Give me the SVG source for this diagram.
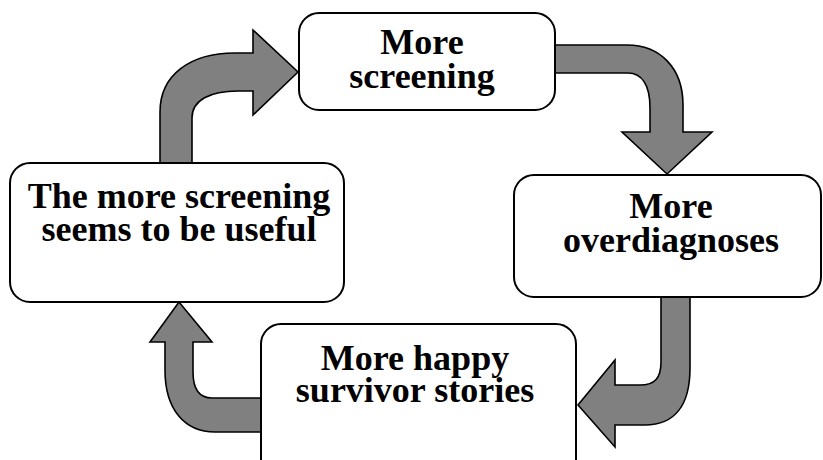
<svg xmlns="http://www.w3.org/2000/svg" width="823" height="460" viewBox="0 0 823 460">
<style>
.box{fill:#fff;stroke:#000;stroke-width:2}
.arr{fill:#808080;stroke:#000;stroke-width:1.6;stroke-linejoin:miter}
.t{font-family:"Liberation Serif","Times New Roman",serif;font-weight:bold;font-size:36px;text-anchor:middle;fill:#000}
</style>
<rect width="823" height="460" fill="#fff"/>
<g id="connectors">
<path class="arr" d="M160,164 L160,112 C160,75 190,53 235,53 L253,53 L253,30 L298,72 L253,115 L253,91 L238,91 C210,91 192,100 192,118 L192,164 Z"/>
<path class="arr" d="M555,45 L627,45 C660,45 683,68 683,105 L683,132 L712,132 L667,174 L622,132 L650,132 L650,108 C650,85 642,73 628,73 L555,73 Z"/>
<path class="arr" d="M661,296 L690,296 L690,368 C690,405 675,425 645,425 L615,425 L615,447 L578,405 L615,360 L615,385 L640,385 C655,385 661,378 661,362 Z"/>
<path class="arr" d="M261,432 L215,432 C185,432 165,410 165,370 L165,342 L150,342 L179,302 L212,342 L193,342 L193,372 C193,390 200,398 212,398 L261,398 Z"/>
</g>
<g id="node-more-screening">
<rect class="box" x="299" y="13" width="256" height="97" rx="20"/>
<text class="t" x="422" y="54">More</text>
<text class="t" x="422" y="88">screening</text>
</g>
<g id="node-more-overdiagnoses">
<rect class="box" x="514" y="175" width="307" height="122" rx="20"/>
<text class="t" x="671" y="218">More</text>
<text class="t" x="671" y="252">overdiagnoses</text>
</g>
<g id="node-happy-survivor">
<rect class="box" x="261" y="324" width="315" height="170" rx="20"/>
<text class="t" x="415" y="370">More happy</text>
<text class="t" x="415" y="402">survivor stories</text>
</g>
<g id="node-seems-useful">
<rect class="box" x="10" y="163" width="334" height="139" rx="20"/>
<text class="t" x="179" y="208">The more screening</text>
<text class="t" x="179" y="241">seems to be useful</text>
</g>
</svg>
